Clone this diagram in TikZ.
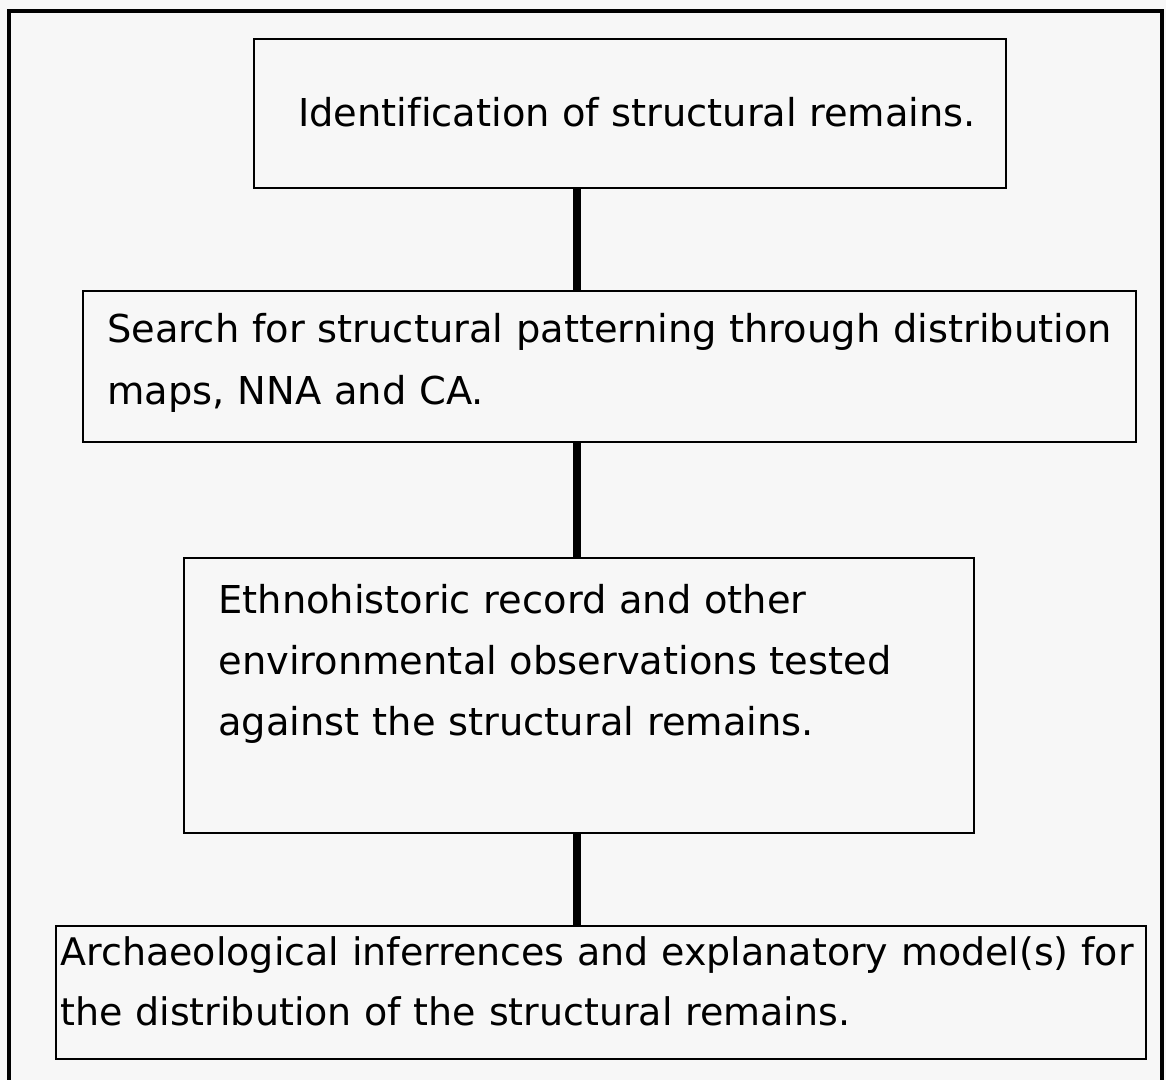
\documentclass[tikz,border=0pt]{standalone}
\usepackage{fontspec}
\setmainfont{DejaVu Sans}[Ligatures=NoCommon]
\begin{document}
\begin{tikzpicture}[x=0.5pt,y=-0.5pt,
  stepbox/.style={draw=black, line width=1.2pt, rectangle, inner sep=0pt, anchor=north west},
  txt/.style={inner sep=0pt, align=left, text width=570pt, anchor=base west},
  link/.style={line width=4pt},
  frame/.style={line width=1.8pt}]
\fill[gray!6] (0,0) rectangle (1166,1080);
\useasboundingbox (0,0) rectangle (1166,1080);
\draw[frame] (9,1080) -- (9,11) -- (1162,11) -- (1162,1080);

\node[stepbox, minimum width=376pt, minimum height=74.5pt] (b1) at (253,38) {};
\node[inner sep=0pt, anchor=base, font=\fontsize{19.2}{31}\selectfont] (t1) at (637,127) {Identification of structural remains.};

\node[stepbox, minimum width=526.5pt, minimum height=75.5pt] (b2) at (82,290) {};
\node[txt, font=\fontsize{19.2}{31}\selectfont] (t2) at (107,343) {Search for structural patterning through distribution\\maps, NNA and CA.};

\node[stepbox, minimum width=395pt, minimum height=137.5pt] (b3) at (183,557) {};
\node[txt, font=\fontsize{19.2}{30.5}\selectfont] (t3) at (218,613) {Ethnohistoric record and other\\environmental observations tested\\against the structural remains.};

\node[stepbox, minimum width=545pt, minimum height=66.5pt] (b4) at (55,925) {};
\node[txt, font=\fontsize{19.0}{30}\selectfont] (t4) at (60,965) {Archaeological inferrences and explanatory model(s) for\\the distribution of the structural remains.};

\coordinate (spine) at (577,0);
\draw[link] (spine |- b1.south) -- (spine |- b2.north);
\draw[link] (spine |- b2.south) -- (spine |- b3.north);
\draw[link] (spine |- b3.south) -- (spine |- b4.north);
\end{tikzpicture}
\end{document}
